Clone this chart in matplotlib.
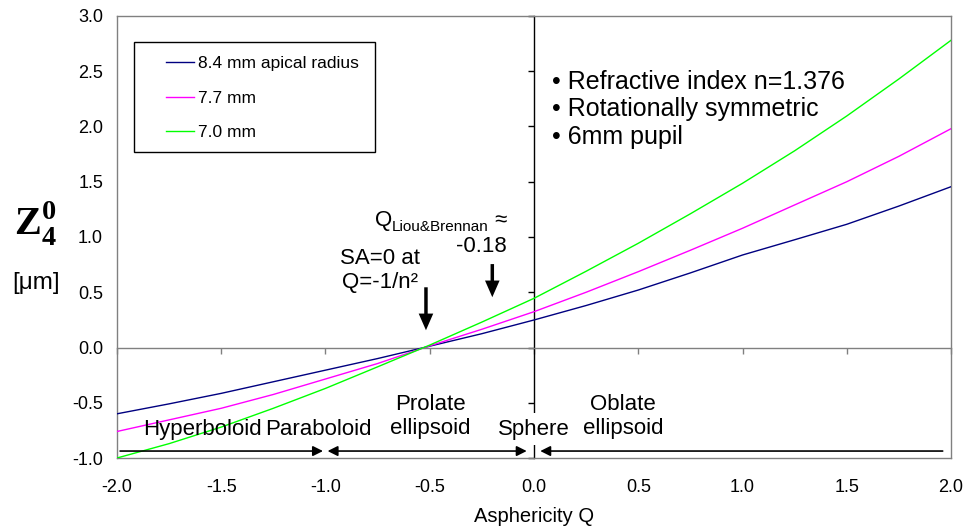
import matplotlib
matplotlib.use("Agg")
import matplotlib.pyplot as plt
from matplotlib.patches import Rectangle, FancyArrowPatch

plt.rcParams["font.family"] = ["Liberation Sans", "DejaVu Sans"]
plt.rcParams["mathtext.fontset"] = "custom"
plt.rcParams["mathtext.rm"] = "Liberation Sans"
plt.rcParams["mathtext.it"] = "Liberation Sans"
plt.rcParams["mathtext.bf"] = "Liberation Serif:bold"
plt.rcParams["mathtext.default"] = "regular"

# Asphericity Q values
q = [-2.0, -1.75, -1.5, -1.25, -1.0, -0.75, -0.5, -0.25, 0.0,
     0.25, 0.5, 0.75, 1.0, 1.25, 1.5, 1.75, 2.0]

# Spherical aberration Z4^0 [um] for three apical radii
z_84 = [-0.60, -0.51, -0.415, -0.31, -0.205, -0.10, 0.012, 0.125, 0.249,
        0.38, 0.52, 0.675, 0.837, 0.975, 1.115, 1.28, 1.455]
z_77 = [-0.76, -0.655, -0.55, -0.425, -0.285, -0.145, 0.015, 0.165, 0.324,
        0.50, 0.686, 0.88, 1.079, 1.29, 1.50, 1.73, 1.98]
z_70 = [-1.00, -0.87, -0.72, -0.55, -0.37, -0.175, 0.022, 0.23, 0.445,
        0.69, 0.943, 1.21, 1.486, 1.78, 2.095, 2.43, 2.78]

series_labels = ["8.4 mm apical radius", "7.7 mm", "7.0 mm"]
series_colors = ["#000080", "#FF00FF", "#00FF00"]

x_ticks = [-2.0, -1.5, -1.0, -0.5, 0.0, 0.5, 1.0, 1.5, 2.0]
y_ticks = [-1.0, -0.5, 0.0, 0.5, 1.0, 1.5, 2.0, 2.5, 3.0]

n_index = 1.376
q_sa_zero = -1.0 / n_index ** 2
q_liou = -0.18

notes = ["\u2022 Refractive index n=1.376", "\u2022 Rotationally symmetric", "\u2022 6mm pupil"]

fig = plt.figure(figsize=(9.66, 5.29), dpi=100)
pos = [0.1211, 0.1342, 0.8634, 0.8356]

# inner axes lines crossing at the origin
ax2 = fig.add_axes(pos)
ax2.set_xlim(-2, 2)
ax2.set_ylim(-1, 3)
ax2.patch.set_visible(False)
for s in ("top", "right"):
    ax2.spines[s].set_visible(False)
ax2.spines["left"].set_position(("data", 0))
ax2.spines["left"].set_color("black")
ax2.spines["left"].set_linewidth(1.0)
ax2.spines["bottom"].set_position(("data", 0))
ax2.spines["bottom"].set_color("#808080")
ax2.spines["bottom"].set_linewidth(1.0)
ax2.set_xticks(x_ticks)
ax2.set_yticks(y_ticks)
ax2.set_xticklabels([])
ax2.set_yticklabels([])
ax2.tick_params(axis="x", direction="out", length=4, width=1.0, color="#808080")
ax2.tick_params(axis="y", direction="out", length=4, width=1.0, color="black")
ax2.set_zorder(0)

ax = fig.add_axes(pos)
ax.set_zorder(1)
ax.patch.set_visible(False)
ax.set_xlim(-2, 2)
ax.set_ylim(-1, 3)
for s in ax.spines.values():
    s.set_color("#808080")
    s.set_linewidth(1.0)
ax.set_xticks(x_ticks)
ax.set_yticks(y_ticks)
ax.set_xticklabels([f"{v:.1f}" for v in x_ticks])
ax.set_yticklabels([f"{v:.1f}" for v in y_ticks])
ax.tick_params(axis="both", length=0, labelsize=13)
ax.tick_params(axis="x", pad=15)
ax.tick_params(axis="y", pad=10)
ax.set_xlabel("Asphericity Q", fontsize=14.5, labelpad=8)

lines = []
for z, lab, col in zip([z_84, z_77, z_70], series_labels, series_colors):
    ln, = ax.plot(q, z, color=col, lw=1.0, label=lab, zorder=3)
    lines.append(ln)

# legend with a square black frame
ax.add_patch(Rectangle((0.0204, 0.692), 0.289, 0.249, transform=ax.transAxes,
                       facecolor="white", edgecolor="black", lw=1.0, zorder=4))
leg = ax.legend(handles=lines, loc="upper left", bbox_to_anchor=(0.059, 0.909),
                frameon=False, fontsize=12.5, borderpad=0, handlelength=1.6,
                handletextpad=0.25, labelspacing=1.1, borderaxespad=0)
leg.set_zorder(5)

# y label
fig.text(0.014, 0.578, r"$\mathbf{Z}_{\mathbf{4}}^{\mathbf{0}}$", fontsize=29,
         ha="left", va="center")
fig.text(0.037, 0.465, "[\u03bcm]", fontsize=17.5, ha="center", va="center")

# notes
ax.text(0.085, 2.155, "\n".join(notes), fontsize=18, ha="left", va="center",
        linespacing=1.2, zorder=6)

# SA=0 annotation
ax.text(-0.74, 0.70, "SA=0 at\nQ=-1/n\u00b2", fontsize=16, ha="center",
        va="center", linespacing=1.2, zorder=6)

# Liou & Brennan model asphericity, built right-to-left
t_approx = ax.text(-0.13, 1.10, " \u2248", fontsize=16, ha="right", va="baseline",
                   zorder=6)
t_sub = ax.annotate("Liou&Brennan", xy=(0, 1.055), xycoords=(t_approx, "data"),
                    fontsize=11, ha="right", va="baseline", zorder=6)
ax.annotate("Q", xy=(0, 1.10), xycoords=(t_sub, "data"), fontsize=16,
            ha="right", va="baseline", zorder=6)
ax.text(-0.13, 0.864, f"{q_liou:.2f}", fontsize=16, ha="right", va="baseline",
        zorder=6)

big = "simple,head_length=12,head_width=10.5,tail_width=2.5"
ax.add_patch(FancyArrowPatch((q_sa_zero + 0.01, 0.57), (q_sa_zero + 0.01, 0.131),
                             arrowstyle=big, mutation_scale=1, color="black",
                             lw=0, zorder=6))
ax.add_patch(FancyArrowPatch((q_liou - 0.02, 0.78), (q_liou - 0.02, 0.43),
                             arrowstyle=big, mutation_scale=1, color="black",
                             lw=0, zorder=6))

# conic section regions along Q
arrow_y = -0.937
small = dict(mutation_scale=10, color="black", lw=1.2, shrinkA=0, shrinkB=0,
             zorder=6)
ax.add_patch(FancyArrowPatch((-1.985, arrow_y), (-1.012, arrow_y),
                             arrowstyle="-|>,head_length=0.6,head_width=0.3", **small))
ax.add_patch(FancyArrowPatch((-0.990, arrow_y), (-0.035, arrow_y),
                             arrowstyle="<|-|>,head_length=0.6,head_width=0.3", **small))
ax.add_patch(FancyArrowPatch((0.030, arrow_y), (1.96, arrow_y),
                             arrowstyle="<|-,head_length=0.6,head_width=0.3", **small))

rfs = 16
ax.text(-1.592, -0.738, "Hyperboloid", fontsize=rfs, ha="center", va="center", zorder=6)
ax.text(-1.036, -0.738, "Paraboloid", fontsize=rfs, ha="center", va="center", zorder=6)
ax.text(-0.499, -0.625, "Prolate\nellipsoid", fontsize=rfs, ha="center", va="center",
        linespacing=1.15, zorder=6)
ax.text(0.0, -0.738, "Sphere", fontsize=rfs, ha="center", va="center", zorder=6,
        bbox=dict(facecolor="white", edgecolor="none", pad=4))
ax.text(0.427, -0.625, "Oblate\nellipsoid", fontsize=rfs, ha="center", va="center",
        linespacing=1.15, zorder=6)

fig.savefig("out.png", dpi=100, facecolor="white")
